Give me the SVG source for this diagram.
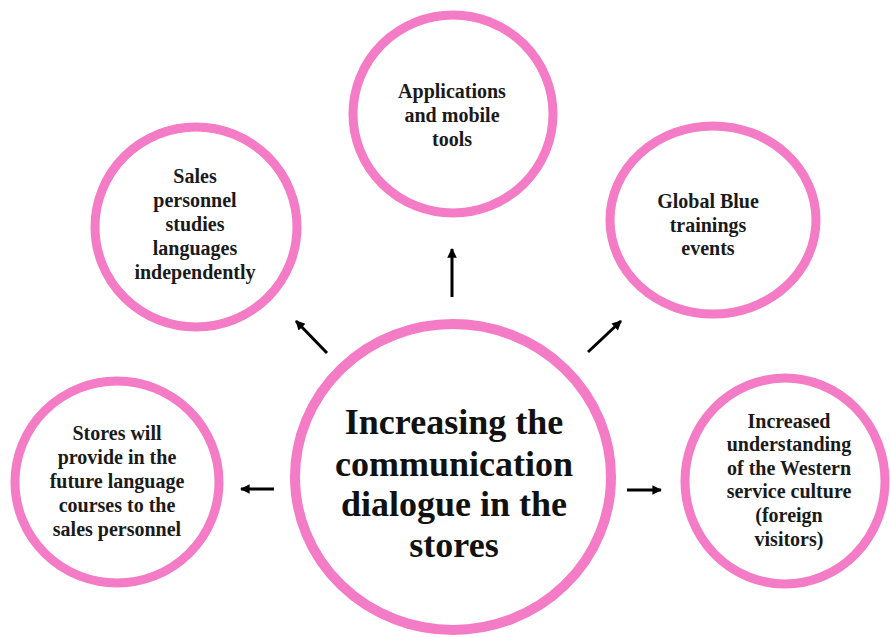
<svg xmlns="http://www.w3.org/2000/svg" width="891" height="637" viewBox="0 0 891 637">
  <style>
    .ring { fill: #ffffff; stroke: #F47BC5; stroke-width: 9; }
    .big { stroke-width: 10; }
    .lbl { font-family: "Liberation Serif", "Times New Roman", serif; font-weight: bold; font-size: 20px; fill: #1a1a1a; text-anchor: middle; }
    .title { font-family: "Liberation Serif", "Times New Roman", serif; font-weight: bold; font-size: 36px; fill: #111111; text-anchor: middle; }
    .conn { stroke: #000000; stroke-width: 3; fill: none; marker-end: url(#arr); }
  </style>
  <defs>
    <marker id="arr" viewBox="0 0 10 10" refX="9" refY="5" markerWidth="3.6" markerHeight="3.2" orient="auto" markerUnits="strokeWidth">
      <path d="M0,0 L10,5 L0,10 Z" fill="#000000"/>
    </marker>
  </defs>
  <rect width="891" height="637" fill="#ffffff"/>

  <g id="connectors">
    <line class="conn" x1="452" y1="297" x2="452" y2="249"/>
    <line class="conn" x1="327" y1="353" x2="296" y2="321"/>
    <line class="conn" x1="588" y1="352" x2="621" y2="321"/>
    <line class="conn" x1="627" y1="490" x2="661" y2="490"/>
    <line class="conn" x1="274" y1="489" x2="241" y2="489"/>
  </g>

  <g id="center">
    <ellipse class="ring big" cx="453" cy="477" rx="158" ry="153"/>
    <text class="title" x="454" y="434">Increasing the</text>
    <text class="title" x="454" y="476">communication</text>
    <text class="title" x="454" y="516">dialogue in the</text>
    <text class="title" x="454" y="557">stores</text>
  </g>

  <g id="applications">
    <ellipse class="ring" cx="453" cy="114" rx="100" ry="99"/>
    <text class="lbl" x="452" y="98">Applications</text>
    <text class="lbl" x="452" y="122">and mobile</text>
    <text class="lbl" x="452" y="146">tools</text>
  </g>

  <g id="sales">
    <ellipse class="ring" cx="196" cy="227" rx="101" ry="100"/>
    <text class="lbl" x="195" y="183">Sales</text>
    <text class="lbl" x="195" y="207">personnel</text>
    <text class="lbl" x="195" y="231">studies</text>
    <text class="lbl" x="195" y="255">languages</text>
    <text class="lbl" x="195" y="279">independently</text>
  </g>

  <g id="globalblue">
    <ellipse class="ring" cx="713" cy="220" rx="103" ry="94"/>
    <text class="lbl" x="708" y="208">Global Blue</text>
    <text class="lbl" x="708" y="232">trainings</text>
    <text class="lbl" x="708" y="255">events</text>
  </g>

  <g id="stores">
    <ellipse class="ring" cx="117" cy="482" rx="102" ry="101"/>
    <text class="lbl" x="117" y="440">Stores will</text>
    <text class="lbl" x="117" y="464">provide in the</text>
    <text class="lbl" x="117" y="488">future language</text>
    <text class="lbl" x="117" y="512">courses to the</text>
    <text class="lbl" x="117" y="536">sales personnel</text>
  </g>

  <g id="increased">
    <ellipse class="ring" cx="785" cy="481" rx="100" ry="103"/>
    <text class="lbl" x="789" y="428">Increased</text>
    <text class="lbl" x="789" y="451">understanding</text>
    <text class="lbl" x="789" y="475">of the Western</text>
    <text class="lbl" x="789" y="498">service culture</text>
    <text class="lbl" x="789" y="522">(foreign</text>
    <text class="lbl" x="789" y="546">visitors)</text>
  </g>
</svg>
